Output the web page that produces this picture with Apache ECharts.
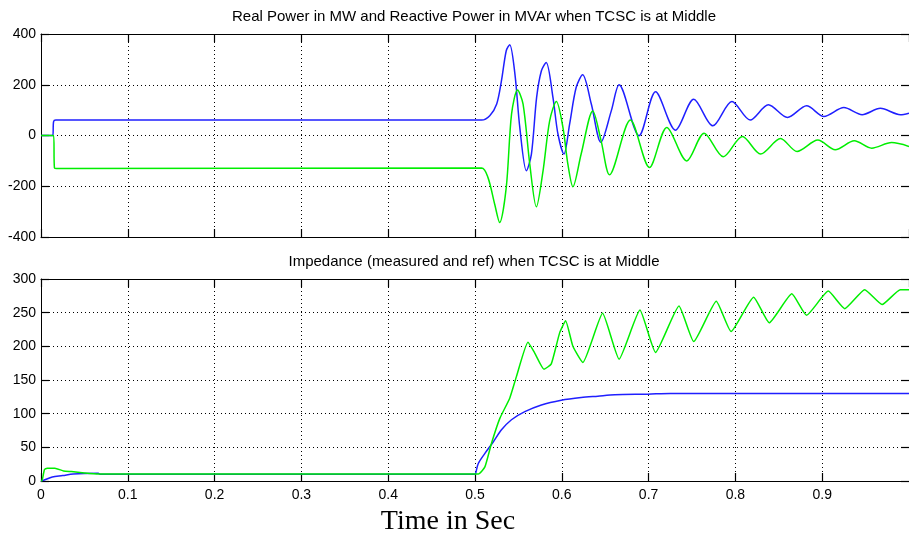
<!DOCTYPE html>
<html>
<head>
<meta charset="utf-8">
<script src="https://cdn.jsdelivr.net/npm/echarts@6/dist/echarts.min.js"></script>
<style>
html,body{margin:0;padding:0;background:#fff;}
#c{width:909px;height:536px;}
</style>
</head>
<body>
<div id="c"></div>
<script>
// ---------- data ----------
const titleTop = 'Real Power in MW and Reactive Power in MVAr when TCSC is at Middle';
const titleBottom = 'Impedance (measured and ref) when TCSC is at Middle';
const xAxisName = 'Time in Sec';

// Top: real power P (blue)
const pTime = [0, 0.0135, 0.0145, 0.017, 0.5076, 0.517, 0.525, 0.5305, 0.536, 0.540, 0.546, 0.5516, 0.5592, 0.565, 0.571, 0.5765, 0.582, 0.5898, 0.5956, 0.6025, 0.609, 0.6166, 0.624, 0.634, 0.645, 0.657, 0.666, 0.689, 0.708, 0.731, 0.752, 0.774, 0.796, 0.817, 0.838, 0.860, 0.882, 0.902, 0.925, 0.946, 0.967, 0.990, 1.0];
const pValue = [0, 0, 55, 61, 60.7, 78, 124, 216, 334, 358, 242, 32, -139, -73, 150, 255, 288, 150, 5, -73, 45, 190, 239, 124, -27, 97, 200, -1, 172, 21, 143, 38, 134, 61, 121, 71, 117, 75, 110, 82, 107, 82, 88];

// Top: reactive power Q (green)
const qTime = [0, 0.0145, 0.0155, 0.018, 0.5076, 0.515, 0.5227, 0.5284, 0.536, 0.5421, 0.549, 0.5554, 0.5631, 0.5707, 0.5784, 0.586, 0.5937, 0.6013, 0.607, 0.6128, 0.6223, 0.6357, 0.6453, 0.655, 0.679, 0.701, 0.721, 0.744, 0.764, 0.786, 0.808, 0.829, 0.852, 0.871, 0.895, 0.915, 0.937, 0.957, 0.980, 1.0];
const qValue = [0, 0, -128, -130, -128, -166, -271, -343, -205, 84, 179, 124, -113, -281, -139, 58, 134, 32, -113, -202, -73, 97, -21, -155, 61, -126, 32, -100, 9, -84, -4, -73, -12, -63, -18, -56, -21, -50, -28, -43];

// Bottom: measured impedance (blue)
const zmTime = [0, 0.003, 0.013, 0.025, 0.037, 0.066, 0.068, 0.5, 0.5007, 0.5038, 0.5114, 0.521, 0.5305, 0.542, 0.5574, 0.5765, 0.5994, 0.6223, 0.6415, 0.661, 0.699, 0.725, 1.0];
const zmValue = [0, 1, 6, 8, 10.5, 11.4, 10, 10, 11, 26, 41, 58, 76, 91, 103, 113, 120, 124, 126, 128, 129, 130, 130];

// Bottom: reference impedance (green)
const zrTime = [0, 0.001, 0.004, 0.007, 0.016, 0.026, 0.035, 0.05, 0.066, 0.5038, 0.5114, 0.519, 0.5286, 0.540, 0.5477, 0.561, 0.5688, 0.5795, 0.5879, 0.5975, 0.6044, 0.6128, 0.6243, 0.647, 0.666, 0.690, 0.708, 0.735, 0.752, 0.778, 0.795, 0.821, 0.839, 0.865, 0.882, 0.907, 0.926, 0.949, 0.969, 0.990, 1.0];
const zrValue = [0, 0, 17, 19, 19, 15, 14, 12, 10.4, 10.5, 21, 56, 93, 123, 155, 206, 190, 166, 174, 220, 238, 200, 176, 249, 181, 254, 191, 260, 207, 267, 222, 273, 235, 278, 246, 282, 256, 284, 262, 284, 284];

const xTicks = { min: 0, max: 1, interval: 0.1 };
const topY = { min: -400, max: 400, interval: 200 };
const botY = { min: 0, max: 300, interval: 50 };

// ---------- chart ----------
const zip = (t, v) => t.map((x, i) => [x, v[i]]);
const BLUE = '#1f1fff', GREEN = '#00ee00';
const labelFont = { fontFamily: 'Liberation Sans, Arial, sans-serif', fontSize: 14, color: '#000' };
const gridDots = { show: true, lineStyle: { color: '#000', type: [1, 3], width: 1 } };
const axLine = { show: true, onZero: false, lineStyle: { color: '#000', width: 1 } };
const tick = { show: true, inside: true, length: 8, lineStyle: { color: '#000', width: 1.2 } };

const grids = [
  { left: 41, top: 34, width: 871, height: 203 },
  { left: 41, top: 279, width: 871, height: 202 }
];

function xAx(gi, pos, labels, split) {
  return {
    type: 'value', gridIndex: gi, position: pos, min: xTicks.min, max: xTicks.max, interval: xTicks.interval,
    axisLine: axLine, axisTick: tick, splitLine: split ? gridDots : { show: false },
    axisLabel: labels ? Object.assign({ show: true, margin: 7, showMaxLabel: false }, labelFont) : { show: false }
  };
}
function yAx(gi, pos, r, labels, split) {
  return {
    type: 'value', gridIndex: gi, position: pos, min: r.min, max: r.max, interval: r.interval,
    axisLine: axLine, axisTick: tick, splitLine: split ? gridDots : { show: false },
    axisLabel: labels ? Object.assign({ show: true, margin: 5 }, labelFont) : { show: false }
  };
}

const option = {
  animation: false,
  backgroundColor: '#fff',
  grid: grids,
  xAxis: [xAx(0, 'bottom', false, true), xAx(0, 'top', false, false), xAx(1, 'bottom', true, true), xAx(1, 'top', false, false)],
  yAxis: [yAx(0, 'left', topY, true, true), yAx(0, 'right', topY, false, false), yAx(1, 'left', botY, true, true), yAx(1, 'right', botY, false, false)],
  graphic: [
    { type: 'text', x: 474, y: 17, style: { text: titleTop, fill: '#000', font: '15px "Liberation Sans", Arial, sans-serif', textAlign: 'center', textVerticalAlign: 'middle' } },
    { type: 'text', x: 474, y: 262, style: { text: titleBottom, fill: '#000', font: '15px "Liberation Sans", Arial, sans-serif', textAlign: 'center', textVerticalAlign: 'middle' } },
    { type: 'text', x: 448, y: 522, style: { text: xAxisName, fill: '#000', font: '28px "Liberation Serif", "Times New Roman", serif', textAlign: 'center', textVerticalAlign: 'middle' } }
  ],
  series: [
    { type: 'line', xAxisIndex: 0, yAxisIndex: 0, data: zip(pTime, pValue), showSymbol: false, smooth: 0.3, lineStyle: { color: BLUE, width: 1.5 }, z: 2 },
    { type: 'line', xAxisIndex: 0, yAxisIndex: 0, data: zip(qTime, qValue), showSymbol: false, smooth: 0.3, lineStyle: { color: GREEN, width: 1.5 }, z: 3 },
    { type: 'line', xAxisIndex: 2, yAxisIndex: 2, data: zip(zmTime, zmValue), showSymbol: false, smooth: 0.3, lineStyle: { color: BLUE, width: 1.5 }, z: 2 },
    { type: 'line', xAxisIndex: 2, yAxisIndex: 2, data: zip(zrTime, zrValue), showSymbol: false, smooth: 0.15, lineStyle: { color: GREEN, width: 1.5 }, z: 3 }
  ]
};
const chart = echarts.init(document.getElementById('c'), null, { renderer: 'canvas' });
chart.setOption(option);
</script>
</body>
</html>
